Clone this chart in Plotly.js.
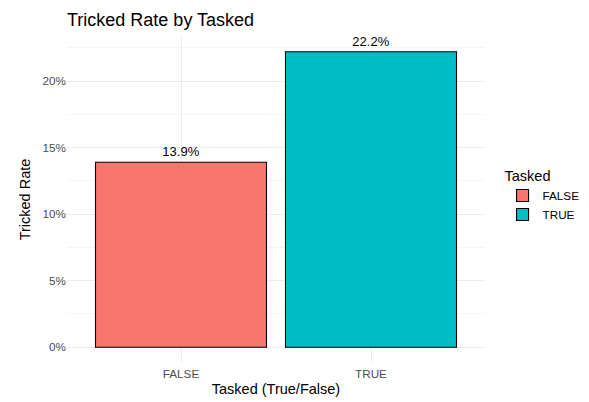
<!DOCTYPE html>
<html><head><meta charset="utf-8">
<script src="https://cdn.plot.ly/plotly-3.0.1.min.js"></script>
<style>html,body{margin:0;padding:0;background:#fff}#chart{width:589px;height:402px}</style>
</head><body><div id="chart"></div>
<script>
const categories = ["FALSE", "TRUE"];
const rates = [0.139, 0.222];
const colors = ["#F8766D", "#00BFC4"];
const labels = ["13.9%", "22.2%"];

const traces = categories.map((c, i) => ({
  type: 'bar', x: [c], y: [rates[i]], name: c, width: 0.9,
  marker: {color: colors[i], line: {color: '#000', width: 1.1}},
  text: [labels[i]], textposition: 'outside', cliponaxis: false,
  textfont: {family: 'Liberation Sans, Arial, sans-serif', size: 13, color: '#000'},
  hoverinfo: 'none'
}));

const layout = {
  width: 589, height: 402,
  margin: {l: 67, r: 104, t: 37, b: 40, autoexpand: false},
  paper_bgcolor: '#fff', plot_bgcolor: '#fff',
  font: {family: 'Liberation Sans, Arial, sans-serif', color: '#000'},
  title: {text: 'Tricked Rate by Tasked', x: 67/589, xanchor: 'left', y: 0.95, yanchor: 'middle',
          font: {size: 18, color: '#000'}},
  showlegend: true,
  legend: {x: 1.042, y: 0.615, xanchor: 'left', yanchor: 'top',
           title: {text: 'Tasked', font: {size: 14.5, color: '#000'}},
           font: {size: 11.7, color: '#000'}, traceorder: 'normal', itemwidth: 30,
           tracegroupgap: 2},
  bargap: 0.1,
  xaxis: {type: 'category', categoryarray: categories, range: [-0.6, 1.6],
          showgrid: true, gridcolor: '#ebebeb', gridwidth: 1, zeroline: false,
          showline: false, ticks: '', ticklabelstandoff: 3, tickfont: {size: 11.7, color: '#4d4d4d'},
          title: {text: 'Tasked (True/False)', font: {size: 14.5, color: '#000'}, standoff: 5}},
  yaxis: {range: [-0.0111, 0.2331], tickmode: 'linear', tick0: 0, dtick: 0.05, tickformat: '.0%',
          showgrid: true, gridcolor: '#ebebeb', gridwidth: 1, zeroline: false, showline: false, ticks: '',
          minor: {dtick: 0.025, tick0: 0, showgrid: true, gridcolor: '#f3f3f3', gridwidth: 0.8},
          tickfont: {size: 11.7, color: '#4d4d4d'},
          title: {text: 'Tricked Rate', font: {size: 14.5, color: '#000'}, standoff: 8}}
};

Plotly.newPlot('chart', traces, layout, {displayModeBar: false, staticPlot: true});
</script>
</body></html>
